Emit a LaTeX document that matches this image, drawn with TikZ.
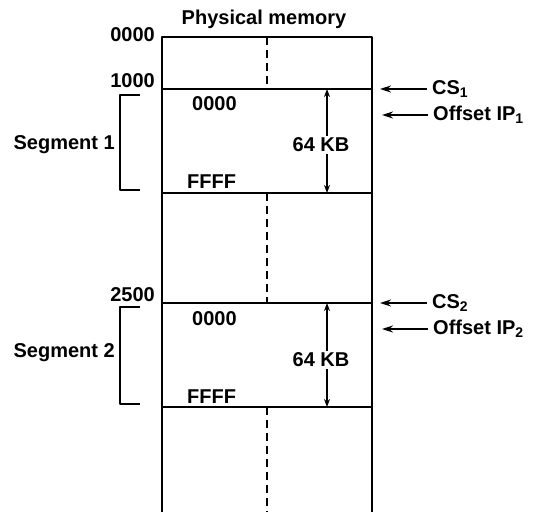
\documentclass[tikz,border=0pt]{standalone}
\usepackage{fontspec}
\setmainfont{Liberation Sans}
\usetikzlibrary{arrows.meta}
\tikzset{
  mem/.style={line width=1.8pt},
  split/.style={line width=1.6pt, dash pattern=on 8pt off 5pt},
  brace/.style={line width=1.4pt},
  lbl/.style={inner sep=0pt, font=\fontsize{20}{22}\selectfont\bfseries},
  ptr/.style={-{Stealth[length=11pt,width=7pt]}, line width=1.4pt},
  size/.style={{Stealth[length=8pt,width=6pt]}-{Stealth[length=8pt,width=6pt]}, line width=1.4pt},
}
\begin{document}
\begin{tikzpicture}[x=1pt, y=-1pt, line join=round]
  \useasboundingbox (0,0) rectangle (551,512);
  % memory column
  \coordinate (TL) at (162,37);
  \coordinate (TR) at (372,37);
  \coordinate (BL) at (162,512);
  \coordinate (BR) at (372,512);
  \coordinate (L1) at (162,89);   \coordinate (R1) at (372,89);
  \coordinate (L2) at (162,193);  \coordinate (R2) at (372,193);
  \coordinate (L3) at (162,303);  \coordinate (R3) at (372,303);
  \coordinate (L4) at (162,407);  \coordinate (R4) at (372,407);
  \draw[mem] (BL) -- (TL) -- (TR) -- (BR);
  \draw[mem] (L1) -- (R1)  (L2) -- (R2)  (L3) -- (R3)  (L4) -- (R4);
  \draw[split] (267,37) -- (267,89)  (267,193) -- (267,303)  (267,407) -- (267,512);
  \node[lbl] (title) at (264,19) {Physical memory};
  % addresses
  \node[lbl, anchor=base east] (a0) at (155,41) {0000};
  \node[lbl, anchor=base east] (a1) at (155,87) {1000};
  \node[lbl, anchor=base east] (a2) at (155,301) {2500};
  % segment 1
  \node[lbl, anchor=base west] (s1lo) at (192,110) {0000};
  \node[lbl, anchor=base west] (s1hi) at (187,188) {FFFF};
  \draw[size] (327,89) -- (327,193);
  \node[lbl, fill=white, inner sep=2pt] (kb1) at (321,145) {64 KB};
  \draw[brace] (140,95) -- (120,95) -- (120,190) -- (140,190);
  \node[lbl, anchor=east] (seg1) at (115,145) {Segment 1};
  % segment 2
  \node[lbl, anchor=base west] (s2lo) at (192,325) {0000};
  \node[lbl, anchor=base west] (s2hi) at (187,403) {FFFF};
  \draw[size] (327,303) -- (327,407);
  \node[lbl, fill=white, inner sep=2pt] (kb2) at (321,360) {64 KB};
  \draw[brace] (140,307) -- (120,307) -- (120,404) -- (140,404);
  \node[lbl, anchor=east] (seg2) at (115,353) {Segment 2};
  % registers
  \node[lbl, anchor=west] (cs1) at (432,89) {CS\textsubscript{1}};
  \node[lbl, anchor=west] (ip1) at (433,115) {Offset IP\textsubscript{1}};
  \node[lbl, anchor=west] (cs2) at (432,303) {CS\textsubscript{2}};
  \node[lbl, anchor=west] (ip2) at (433,329) {Offset IP\textsubscript{2}};
  \draw[ptr] ([xshift=-5pt]cs1.west) -- ([xshift=8pt]cs1.west -| R1);
  \draw[ptr] ([xshift=-5pt]ip1.west) -- ([xshift=10pt]ip1.west -| R1);
  \draw[ptr] ([xshift=-5pt]cs2.west) -- ([xshift=8pt]cs2.west -| R3);
  \draw[ptr] ([xshift=-5pt]ip2.west) -- ([xshift=10pt]ip2.west -| R3);
\end{tikzpicture}
\end{document}
